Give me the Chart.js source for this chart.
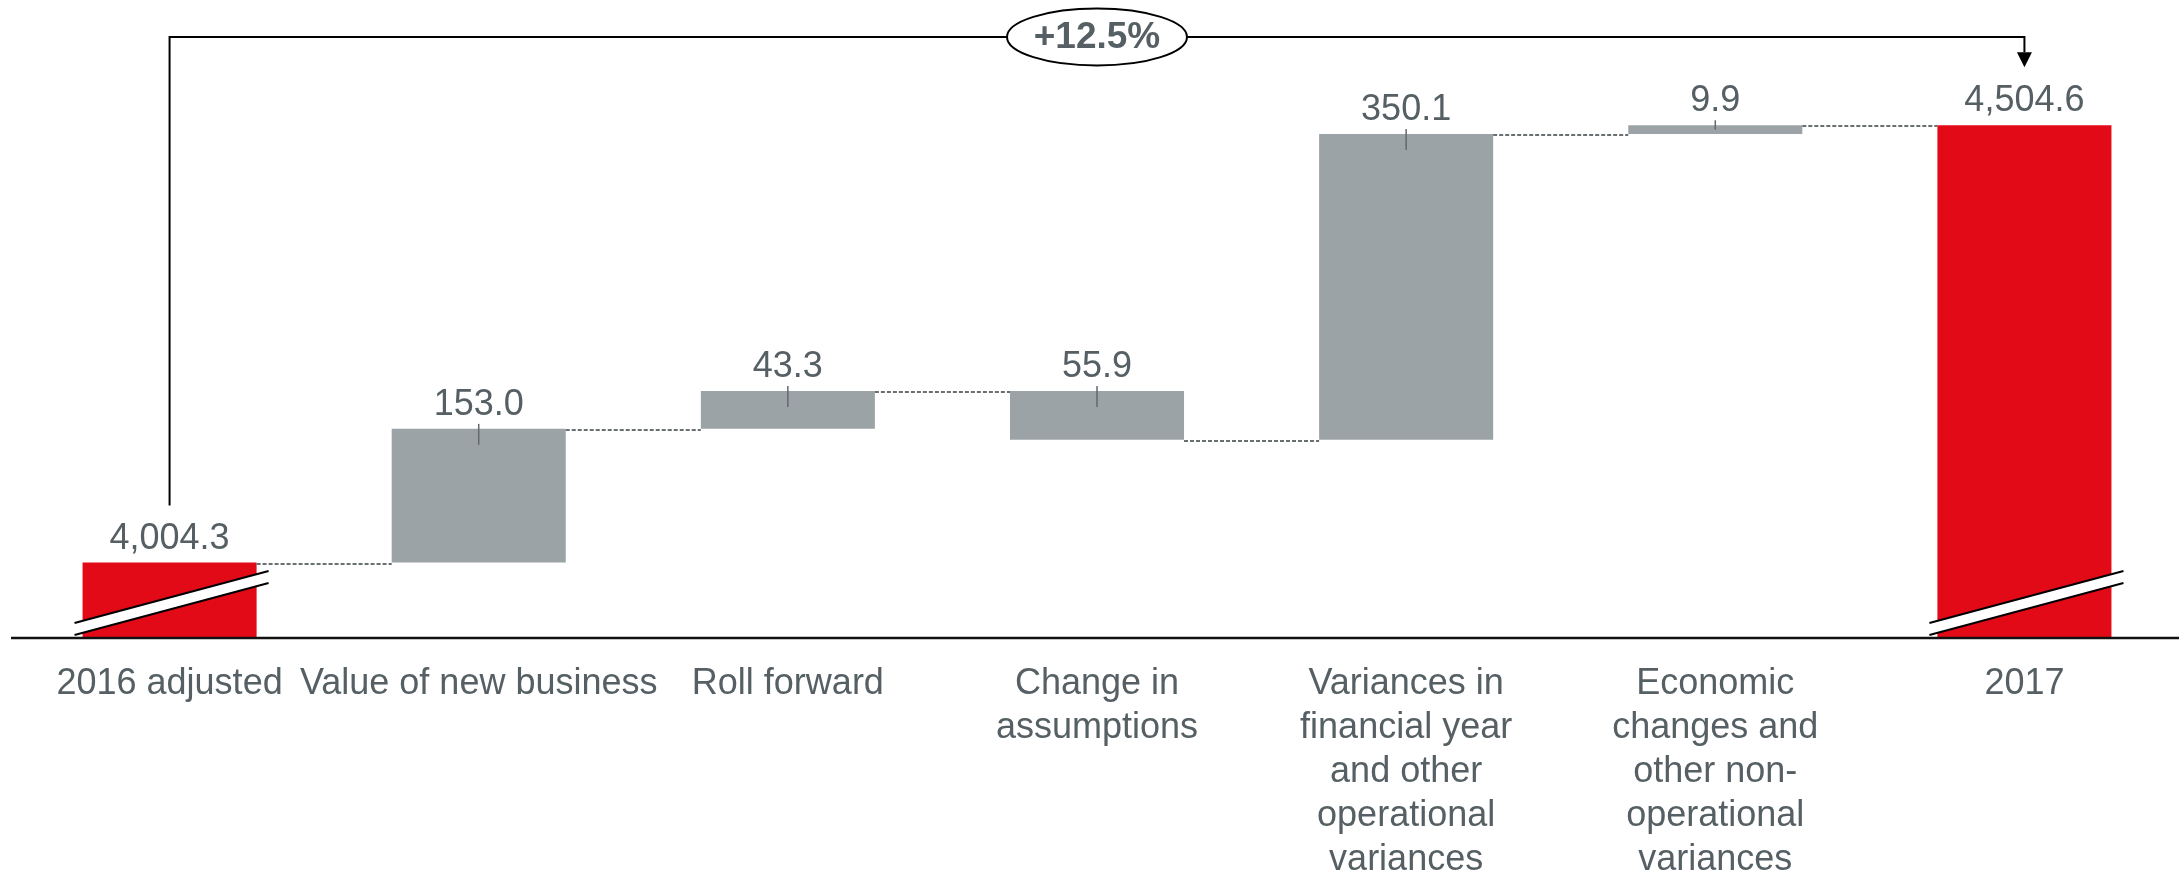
<!DOCTYPE html>
<html>
<head>
<meta charset="utf-8">
<title>Embedded value development</title>
<script src="https://cdn.jsdelivr.net/npm/chart.js@4/dist/chart.umd.min.js"></script>
<style>
  html, body { margin: 0; padding: 0; background: #ffffff; }
  #wrap { width: 2179px; height: 882px; position: relative; }
</style>
</head>
<body>
<div id="wrap"><canvas id="chart"></canvas></div>
<script>
var categories = [
  '2016 adjusted',
  'Value of new business',
  'Roll forward',
  ['Change in', 'assumptions'],
  ['Variances in', 'financial year', 'and other', 'operational', 'variances'],
  ['Economic', 'changes and', 'other non-', 'operational', 'variances'],
  '2017'
];
var values = [4004.3, 153.0, 43.3, -55.9, 350.1, 9.9, 4504.6];
var isTotal = [true, false, false, false, false, false, true];

// hidden value axis, cut off below the first total
var axisMin = 3918;
var axisMax = 4648;

var RED = '#e30a17';
var GREY = '#9ca3a6';
var TEXT = '#566064';
var FONT = "'Liberation Sans', Arial, sans-serif";

// floating bars for the steps, plain bars for the totals
var running = 0;
var levels = [];
var barData = values.map(function (v, i) {
  if (isTotal[i]) {
    running = v;
    levels.push(running);
    return v;
  }
  var from = running;
  running = running + v;
  levels.push(running);
  return [from, running];
});

function fmt(v) {
  return Math.abs(v).toLocaleString('en-US', { minimumFractionDigits: 1, maximumFractionDigits: 1 });
}

var waterfallExtras = {
  id: 'waterfallExtras',
  afterDatasetsDraw: function (chart) {
    var ctx = chart.ctx;
    var y = chart.scales.y;
    var area = chart.chartArea;
    var bars = chart.getDatasetMeta(0).data;
    var base = area.bottom;

    ctx.save();

    // dashed connectors between neighbouring bars
    ctx.strokeStyle = '#6a6f72';
    ctx.lineWidth = 2;
    ctx.setLineDash([4, 2]);
    for (var i = 0; i < bars.length - 1; i++) {
      var ly = Math.round(y.getPixelForValue(levels[i])) + 1;
      ctx.beginPath();
      ctx.moveTo(bars[i].x + bars[i].width / 2, ly);
      ctx.lineTo(bars[i + 1].x - bars[i + 1].width / 2, ly);
      ctx.stroke();
    }
    ctx.setLineDash([]);

    // value labels, with a small leader tick on the step bars
    ctx.font = '36px ' + FONT;
    ctx.fillStyle = TEXT;
    ctx.textAlign = 'center';
    ctx.textBaseline = 'alphabetic';
    bars.forEach(function (bar, i) {
      var top = Math.min(bar.y, bar.base);
      var h = Math.abs(bar.base - bar.y);
      ctx.fillText(fmt(values[i]), bar.x, top - 14);
      if (!isTotal[i]) {
        ctx.strokeStyle = '#62696d';
        ctx.lineWidth = 1.5;
        ctx.beginPath();
        ctx.moveTo(bar.x, top - 5);
        ctx.lineTo(bar.x, top + Math.min(16, h / 2));
        ctx.stroke();
      }
    });

    // axis break marks across the total bars
    bars.forEach(function (bar, i) {
      if (!isTotal[i]) return;
      var x1 = bar.x - bar.width / 2 - 8;
      var x2 = bar.x + bar.width / 2 + 12;
      ctx.fillStyle = '#ffffff';
      ctx.beginPath();
      ctx.moveTo(x1, base - 3);
      ctx.lineTo(x2, base - 55);
      ctx.lineTo(x2, base - 67);
      ctx.lineTo(x1, base - 15);
      ctx.closePath();
      ctx.fill();
      ctx.strokeStyle = '#000000';
      ctx.lineWidth = 2;
      ctx.beginPath();
      ctx.moveTo(x1, base - 3);
      ctx.lineTo(x2, base - 55);
      ctx.moveTo(x1, base - 15);
      ctx.lineTo(x2, base - 67);
      ctx.stroke();
    });

    // category axis line
    ctx.strokeStyle = '#111111';
    ctx.lineWidth = 2.5;
    ctx.beginPath();
    ctx.moveTo(area.left - 4, base);
    ctx.lineTo(chart.width, base);
    ctx.stroke();

    // growth bracket from the first total to the last one
    var first = bars[0];
    var last = bars[bars.length - 1];
    var lineY = area.top + 37;
    var tipY = last.y - 58;
    ctx.strokeStyle = '#000000';
    ctx.lineWidth = 2;
    ctx.beginPath();
    ctx.moveTo(first.x, first.y - 57);
    ctx.lineTo(first.x, lineY);
    ctx.lineTo(last.x, lineY);
    ctx.lineTo(last.x, tipY - 15);
    ctx.stroke();
    ctx.fillStyle = '#000000';
    ctx.beginPath();
    ctx.moveTo(last.x - 7.5, tipY - 15);
    ctx.lineTo(last.x + 7.5, tipY - 15);
    ctx.lineTo(last.x, tipY);
    ctx.closePath();
    ctx.fill();

    var midX = (first.x + last.x) / 2;
    ctx.fillStyle = '#ffffff';
    ctx.beginPath();
    ctx.ellipse(midX, lineY, 90, 28.5, 0, 0, Math.PI * 2);
    ctx.fill();
    ctx.stroke();

    var growth = (values[values.length - 1] / values[0] - 1) * 100;
    ctx.fillStyle = TEXT;
    ctx.font = 'bold 37px ' + FONT;
    ctx.textBaseline = 'middle';
    ctx.fillText('+' + growth.toFixed(1) + '%', midX, lineY + 1);

    ctx.restore();
  }
};

var ctx = document.getElementById('chart').getContext('2d');
var chart = new Chart(ctx, {
  type: 'bar',
  data: {
    labels: categories,
    datasets: [
      {
        data: barData,
        backgroundColor: isTotal.map(function (t) { return t ? RED : GREY; }),
        borderWidth: 0,
        barPercentage: 0.563,
        categoryPercentage: 1.0
      }
    ]
  },
  options: {
    responsive: true,
    maintainAspectRatio: false,
    animation: false,
    layout: { padding: { left: 15, right: 0, top: 0, bottom: 0 } },
    plugins: {
      legend: { display: false },
      tooltip: { enabled: false }
    },
    scales: {
      x: {
        grid: { display: false, drawTicks: false },
        border: { display: false },
        ticks: {
          autoSkip: false,
          maxRotation: 0,
          padding: 24,
          color: TEXT,
          font: { family: FONT, size: 36, lineHeight: 1.22 }
        },
        afterFit: function (scale) {
          scale.height = 244;
        }
      },
      y: {
        display: false,
        min: axisMin,
        max: axisMax
      }
    }
  },
  plugins: [waterfallExtras]
});
</script>
</body>
</html>
